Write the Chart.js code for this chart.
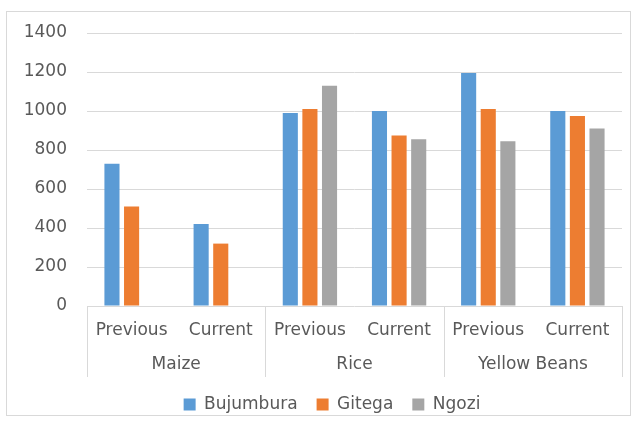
<!DOCTYPE html>
<html>
<head>
<meta charset="utf-8">
<script src="https://cdn.jsdelivr.net/npm/chart.js@4/dist/chart.umd.min.js"></script>
<style>
  html, body { margin: 0; padding: 0; background: #ffffff; }
  #frame {
    position: absolute; left: 6px; top: 11px;
    width: 623px; height: 403px;
    border: 1px solid #d9d9d9;
  }
  #chart { position: absolute; left: 0; top: 0; display: block; }
</style>
</head>
<body>
<div id="frame"></div>
<canvas id="chart" width="636" height="423"></canvas>
<script>
// Crops and the two periods compared for each
const crops = ['Maize', 'Rice', 'Yellow Beans'];
const periods = ['Previous', 'Current'];
const subLabels = ['Previous', 'Current', 'Previous', 'Current', 'Previous', 'Current'];

// Prices by market (Maize has no Ngozi figures)
const bujumbura = [730, 420, 990, 1000, 1195, 1000];
const gitega    = [510, 320, 1010, 875, 1010, 975];
const ngozi     = [null, null, 1130, 855, 845, 910];

const yTicks = [0, 200, 400, 600, 800, 1000, 1200, 1400];

const textColor = '#595959';
const lineColor = '#d9d9d9';
const fontFamily = '"DejaVu Sans", sans-serif';

// Vertical dividers between crop groups, running through both label rows
const groupDividers = {
  id: 'groupDividers',
  afterDraw(chart) {
    const x2 = chart.scales.x2;
    const ctx = chart.ctx;
    ctx.save();
    ctx.strokeStyle = lineColor;
    ctx.lineWidth = 1;
    for (let k = 0; k <= crops.length; k++) {
      const px = Math.round(x2.getPixelForValue(k - 0.5)) + 0.5;
      ctx.beginPath();
      ctx.moveTo(px, chart.chartArea.bottom);
      ctx.lineTo(px, x2.bottom);
      ctx.stroke();
    }
    ctx.restore();
  }
};

// The legend row sits a little right of the canvas centre
const legendShift = {
  id: 'legendShift',
  afterLayout(chart) {
    const lg = chart.legend;
    if (lg) { lg.left += 21; lg.right += 21; }
  }
};

new Chart(document.getElementById('chart'), {
  type: 'bar',
  data: {
    labels: subLabels,
    datasets: [
      { label: 'Bujumbura', data: bujumbura, backgroundColor: '#5b9bd5' },
      { label: 'Gitega', data: gitega, backgroundColor: '#ed7d31' },
      { label: 'Ngozi', data: ngozi, backgroundColor: '#a5a5a5' }
    ]
  },
  options: {
    responsive: false,
    animation: false,
    events: [],
    categoryPercentage: 0.66,
    barPercentage: 0.77,
    layout: { padding: { top: 33, right: 14, left: 0, bottom: 0 } },
    font: { family: fontFamily, size: 17 },
    plugins: {
      legend: {
        position: 'bottom',
        labels: {
          color: textColor,
          font: { family: fontFamily, size: 17 },
          boxWidth: 12,
          boxHeight: 12,
          padding: 19
        }
      },
      tooltip: { enabled: false }
    },
    scales: {
      y: {
        min: 0,
        max: 1400,
        afterBuildTicks(scale) { scale.ticks = yTicks.map(v => ({ value: v })); },
        afterFit(scale) { scale.width = 87; },
        border: { display: false },
        grid: { color: lineColor, lineWidth: 1, drawTicks: false },
        ticks: { color: textColor, padding: 20, font: { family: fontFamily, size: 17 },
                 callback: v => String(v) }
      },
      x: {
        afterFit(scale) { scale.height = 38; },
        border: { display: false },
        grid: { display: false, drawTicks: false },
        ticks: { color: textColor, padding: 14, maxRotation: 0, autoSkip: false,
                 font: { family: fontFamily, size: 17 } }
      },
      x2: {
        type: 'category',
        labels: crops,
        offset: true,
        position: 'bottom',
        afterFit(scale) { scale.height = 33; },
        border: { display: false },
        grid: { display: false, drawTicks: false },
        ticks: { color: textColor, padding: 10, maxRotation: 0, autoSkip: false,
                 font: { family: fontFamily, size: 17 } }
      }
    }
  },
  plugins: [groupDividers, legendShift]
});
</script>
</body>
</html>
